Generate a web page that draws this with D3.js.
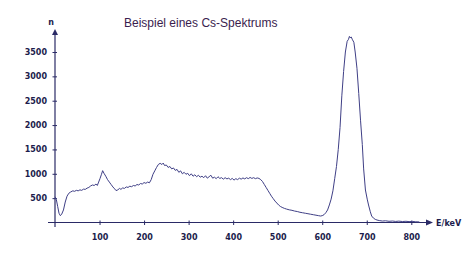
<!DOCTYPE html>
<html><head><meta charset="utf-8">
<script src="https://cdn.jsdelivr.net/npm/d3@7"></script>
<style>body{margin:0;background:#fff}svg{display:block}</style>
</head><body>
<script>
const title = "Beispiel eines Cs-Spektrums";
const xLabel = "E/keV";
const yLabel = "n";
const xTicks = [100,200,300,400,500,600,700,800];
const yTicks = [500,1000,1500,2000,2500,3000,3500];
const energy = [0,3,6,9,12,15,19,23,27,31,35,40,44,48,52,56,60,64,68,72,76,80,84,88,92,95,98,101,104,107,110,114,118,122,126,130,134,137,141,145,148,152,156,160,164,168,172,176,180,184,188,192,196,200,204,208,212,216,220,224,228,232,236,240,243,246,250,254,258,262,266,270,274,278,282,286,290,294,298,302,306,310,314,318,322,326,330,334,338,342,346,350,354,358,362,366,370,374,378,382,386,390,394,398,402,406,410,414,418,422,426,430,434,438,442,446,450,454,458,462,466,470,474,478,482,486,490,494,498,502,506,510,515,520,526,532,538,544,550,556,562,568,574,580,586,592,596,600,604,608,612,616,620,624,628,632,636,640,644,648,652,656,659,661,663,665,668,671,674,678,682,686,690,693,697,701,704,708,711,715,719,723,728,735,742,750,758,765,772,780,788,795,802,810,818];
const counts = [530,470,330,190,140,170,257,420,540,600,625,650,640,660,650,670,660,685,680,705,720,750,770,760,790,760,830,900,980,1064,1010,950,880,830,780,730,690,655,670,700,680,710,700,730,720,745,735,760,750,780,770,800,790,820,805,830,815,880,990,1060,1130,1190,1215,1190,1220,1170,1180,1130,1150,1100,1120,1070,1090,1030,1060,1000,1030,990,1010,960,1000,950,980,940,970,930,950,920,960,910,940,970,910,930,900,940,905,920,890,920,895,910,880,905,870,900,880,910,890,915,895,920,900,925,905,920,900,915,905,880,840,780,720,660,600,540,490,440,400,360,330,310,290,275,260,250,235,225,210,200,190,180,170,160,150,140,133,140,160,200,257,360,480,650,900,1150,1500,1950,2600,3100,3500,3720,3760,3820,3790,3810,3750,3700,3500,3166,2650,2100,1600,1100,667,480,359,220,133,90,65,51,40,30,35,25,30,22,28,20,25,18,22,15,12];

const W = 474, H = 259;
const svg = d3.select("body").append("svg").attr("width", W).attr("height", H);
const x = d3.scaleLinear().domain([0, 800]).range([55, 411.3]);
const y = d3.scaleLinear().domain([0, 3500]).range([222.5, 52]);
const axisCol = "#2a2a66";
const labCol = "#1c1c4c";
const fmt = d3.format("d");

svg.append("text").attr("x", 124).attr("y", 26.5).text(title)
  .attr("font-family", "Liberation Sans, Arial, sans-serif").attr("font-size", 12)
  .attr("fill", "#3a1d4e");

svg.append("line").attr("x1", 48).attr("x2", 428).attr("y1", y(0)).attr("y2", y(0))
  .attr("stroke", axisCol).attr("stroke-width", 1.2);
svg.append("line").attr("x1", x(0)).attr("x2", x(0)).attr("y1", 227).attr("y2", 33)
  .attr("stroke", axisCol).attr("stroke-width", 1.2);
svg.append("path").attr("d", `M433,${y(0)} L426,${y(0)-3} L426,${y(0)+3} Z`).attr("fill", axisCol);
svg.append("path").attr("d", `M${x(0)},29 L${x(0)-3},35 L${x(0)+3},35 Z`).attr("fill", axisCol);

const xAxis = d3.axisBottom(x).tickValues(xTicks).tickFormat(fmt).tickSize(0).tickPadding(0);
const gx = svg.append("g").attr("transform", `translate(0,${y(0)})`).call(xAxis);
gx.select(".domain").remove();
gx.selectAll(".tick").append("line").attr("y1", -2).attr("y2", 2.5).attr("stroke", axisCol);
gx.selectAll(".tick text").attr("y", 12).attr("fill", labCol)
  .attr("font-family", "DejaVu Sans, Verdana, sans-serif").attr("font-weight", "bold").attr("font-size", 8);

const yAxis = d3.axisLeft(y).tickValues(yTicks).tickFormat(fmt).tickSize(0).tickPadding(0);
const gy = svg.append("g").attr("transform", `translate(${x(0)},0)`).call(yAxis);
gy.select(".domain").remove();
gy.selectAll(".tick").append("line").attr("x1", -2.5).attr("x2", 2).attr("stroke", axisCol);
gy.selectAll(".tick text").attr("x", -8).attr("fill", labCol)
  .attr("font-family", "DejaVu Sans, Verdana, sans-serif").attr("font-weight", "bold").attr("font-size", 8);

svg.append("text").attr("x", 51).attr("y", 25).attr("text-anchor", "middle").text(yLabel)
  .attr("fill", labCol).attr("font-family", "DejaVu Sans, Verdana, sans-serif").attr("font-weight", "bold").attr("font-size", 8);
svg.append("text").attr("x", 436).attr("y", 225.5).text(xLabel)
  .attr("fill", labCol).attr("font-family", "DejaVu Sans, Verdana, sans-serif").attr("font-weight", "bold").attr("font-size", 8);

const data = energy.map((e, i) => [e, counts[i]]);
svg.append("path").datum(data)
  .attr("d", d3.line().x(d => x(d[0])).y(d => y(d[1])))
  .attr("fill", "none").attr("stroke", "#3f3f86").attr("stroke-width", 1);
</script>
</body></html>
